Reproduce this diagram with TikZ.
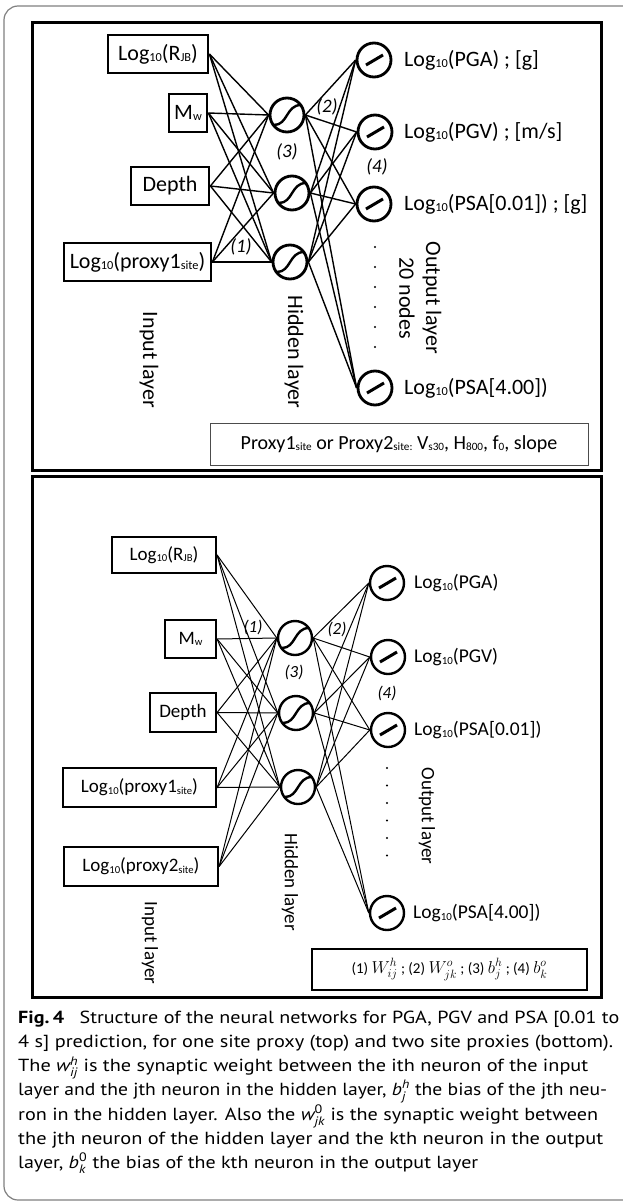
\documentclass[tikz,border=0pt]{standalone}
\usepackage{fontspec}
\usepackage{amsmath}
\usepackage{graphicx}
\setmainfont{Carlito}
\newfontfamily\capfont{PT Sans}
\newcommand{\lo}[1]{\raisebox{-0.08em}{\scalebox{0.56}{#1}}}
\newcommand{\capline}[2]{\resizebox{#1}{\height}{#2}}
\newcommand{\legmath}[1]{{\fontsize{17.5}{20}\selectfont$#1$}}
\begin{document}
\begin{tikzpicture}[x=1pt,y=-1pt,
  panel/.style={draw, line width=3pt},
  inboxA/.style={draw, line width=2.8pt, inner sep=0pt, font=\fontsize{22}{24}\selectfont},
  inboxB/.style={draw, line width=2.2pt, inner sep=0pt, font=\fontsize{19}{22}\selectfont},
  neuronA/.style={circle, draw, line width=2.8pt, minimum size=34pt, inner sep=0pt},
  neuronB/.style={circle, draw, line width=2.4pt, minimum size=34pt, inner sep=0pt},
  connA/.style={line width=1.4pt},
  connB/.style={line width=1pt},
  labA/.style={inner sep=0pt, anchor=west, font=\fontsize{22}{24}\selectfont},
  labB/.style={inner sep=0pt, anchor=west, font=\fontsize{19.5}{22}\selectfont},
  numA/.style={inner sep=0pt, font=\fontsize{19}{22}\selectfont\itshape},
  numB/.style={inner sep=0pt, font=\fontsize{17}{20}\selectfont\itshape},
  layA/.style={inner sep=0pt, rotate=-90, font=\fontsize{22}{24}\selectfont},
  layB/.style={inner sep=0pt, rotate=-90, font=\fontsize{19}{22}\selectfont},
  capt/.style={inner sep=0pt, anchor=base west, font=\capfont\fontsize{17.5}{24}\selectfont},
  sig/.pic={\draw[line width=2.4pt] (-13,10) .. controls (1,10) and (-1,-10) .. (14,-10);},
  lin/.pic={\draw[line width=3pt] (-8,5) -- (9,-5);}
]
\useasboundingbox (0,0) rectangle (622,1204);
% outer frame
\draw[line width=1.2pt, color=black!50, rounded corners=14pt] (4,6) rectangle (660,1200);
% panels
\draw[panel] (32,23) rectangle (601,470);
\draw[panel] (32,476) rectangle (601,997);

%%%%% TOP PANEL
\node[inboxA, minimum width=100pt, minimum height=38pt] (a1) at (158,54) {Log\lo{10}(R\lo{JB})};
\node[inboxA, minimum width=38pt, minimum height=38pt] (a2) at (188,113) {M\lo{w}};
\node[inboxA, minimum width=78pt, minimum height=38pt] (a3) at (170,186) {Depth};
\node[inboxA, minimum width=147pt, minimum height=38pt] (a4) at (137.5,262) {Log\lo{10}(proxy1\lo{site})};

\node[neuronA] (h1) at (287,115) {};
\node[neuronA] (h2) at (292,193) {};
\node[neuronA] (h3) at (290,262) {};
\node[neuronA] (o1) at (374,60) {};
\node[neuronA] (o2) at (375,132) {};
\node[neuronA] (o3) at (374,204) {};
\node[neuronA] (o4) at (375,388) {};
\foreach \n in {h1,h2,h3} \pic at (\n) {sig};
\foreach \n in {o1,o2,o3,o4} \pic at (\n) {lin};

\foreach \i in {1,...,4} \foreach \j in {1,2,3} \draw[connA] (a\i.east) -- (h\j.west);
\foreach \j in {1,2,3} \foreach \k in {1,...,4} \draw[connA] (h\j.east) -- (o\k.west);

\node[labA] (t1) at (404,60) {Log\lo{10}(PGA) ; [g]};
\node[labA] (t2) at (404,132) {Log\lo{10}(PGV) ; [m/s]};
\node[labA] (t3) at (404,204) {Log\lo{10}(PSA[0.01]) ; [g]};
\node[labA] (t4) at (404,388) {Log\lo{10}(PSA[4.00])};

\node[numA] (n1) at (241,247) {(1)};
\node[numA] (n2) at (327,107) {(2)};
\node[numA] (n3) at (287,152) {(3)};
\node[numA] (n4) at (377,167) {(4)};

\foreach \y in {247,267,287,307,327,347} \fill (375,\y) circle (1.2pt);

\node[layA] (il1) at (149,360) {Input layer};
\node[layA] (hl1) at (294,352) {Hidden layer};
\node[layA] (ol1) at (432,298) {Output layer};
\node[layA] (nn1) at (407,298) {20 nodes};

\node[draw=black!70, line width=0.8pt, minimum width=378pt, minimum height=42pt, inner sep=0pt,
      font=\fontsize{20}{22}\selectfont] (leg1) at (399,444)
  {Proxy1\lo{site} or Proxy2\lo{site:} V\lo{s30}, H\lo{800}, f\lo{0}, slope};

%%%%% BOTTOM PANEL
\node[inboxB, minimum width=104pt, minimum height=36pt] (b1) at (164,555) {Log\lo{10}(R\lo{JB})};
\node[inboxB, minimum width=51pt, minimum height=38pt] (b2) at (190.5,639) {M\lo{w}};
\node[inboxB, minimum width=66pt, minimum height=39pt] (b3) at (183,712.5) {Depth};
\node[inboxB, minimum width=153pt, minimum height=39pt] (b4) at (139.5,787.5) {Log\lo{10}(proxy1\lo{site})};
\node[inboxB, minimum width=154pt, minimum height=39pt] (b5) at (141,866.5) {Log\lo{10}(proxy2\lo{site})};

\node[neuronB] (g1) at (295,638) {};
\node[neuronB] (g2) at (296,713) {};
\node[neuronB] (g3) at (298,787) {};
\node[neuronB] (p1) at (387,583) {};
\node[neuronB] (p2) at (388,657) {};
\node[neuronB] (p3) at (388,730) {};
\node[neuronB] (p4) at (387,913) {};
\foreach \n in {g1,g2,g3} \pic at (\n) {sig};
\foreach \n in {p1,p2,p3,p4} \pic at (\n) {lin};

\foreach \i in {1,...,5} \foreach \j in {1,2,3} \draw[connB] (b\i.east) -- (g\j.west);
\foreach \j in {1,2,3} \foreach \k in {1,...,4} \draw[connB] (g\j.east) -- (p\k.west);

\node[labB] (s1) at (414,583) {Log\lo{10}(PGA)};
\node[labB] (s2) at (414,657) {Log\lo{10}(PGV)};
\node[labB] (s3) at (414,730) {Log\lo{10}(PSA[0.01])};
\node[labB] (s4) at (413,913) {Log\lo{10}(PSA[4.00])};

\node[numB] (m1) at (253,627) {(1)};
\node[numB] (m2) at (337,629) {(2)};
\node[numB] (m3) at (294,672) {(3)};
\node[numB] (m4) at (387,693) {(4)};

\foreach \y in {768,785.5,803,820.5,838,855.5} \fill (387,\y) circle (1.2pt);

\node[layB] (il2) at (150,943) {Input layer};
\node[layB] (hl2) at (290,882) {Hidden layer};
\node[layB] (ol2) at (427,816) {Output layer};

\node[draw, line width=2.4pt, minimum width=275pt, minimum height=41pt, inner sep=0pt,
      font=\fontsize{15}{18}\selectfont] (leg2) at (449.5,969.5)
  {(1) \legmath{W^h_{ij}} ; (2) \legmath{W^o_{jk}} ; (3) \legmath{b^h_j} ; (4) \legmath{b^o_k}};

%%%%% CAPTION
\node[capt] (c1) at (18,1023) {\capline{601pt}{\textbf{Fig.\,4}\hspace{0.5em} Structure of the neural networks for PGA, PGV and PSA [0.01 to}};
\node[capt] (c2) at (18,1047.3) {\capline{595pt}{4 s] prediction, for one site proxy (top) and two site proxies (bottom).}};
\node[capt] (c3) at (18,1071.6) {\capline{570pt}{The $\textit{w}^{\textit{h}}_{\textit{ij}}$ is the synaptic weight between the ith neuron of the input}};
\node[capt] (c4) at (18,1095.9) {\capline{589pt}{layer and the jth neuron in the hidden layer, $\textit{b}^{\textit{h}}_{\textit{j}}$ the bias of the jth neu-}};
\node[capt] (c5) at (18,1120.2) {\capline{580pt}{ron in the hidden layer. Also the $\textit{w}^{\text{0}}_{\textit{jk}}$ is the synaptic weight between}};
\node[capt] (c6) at (18,1144.5) {\capline{585pt}{the jth neuron of the hidden layer and the kth neuron in the output}};
\node[capt] (c7) at (18,1168.8) {\capline{460pt}{layer, $\textit{b}^{\text{0}}_{\textit{k}}$ the bias of the kth neuron in the output layer}};
\end{tikzpicture}
\end{document}
